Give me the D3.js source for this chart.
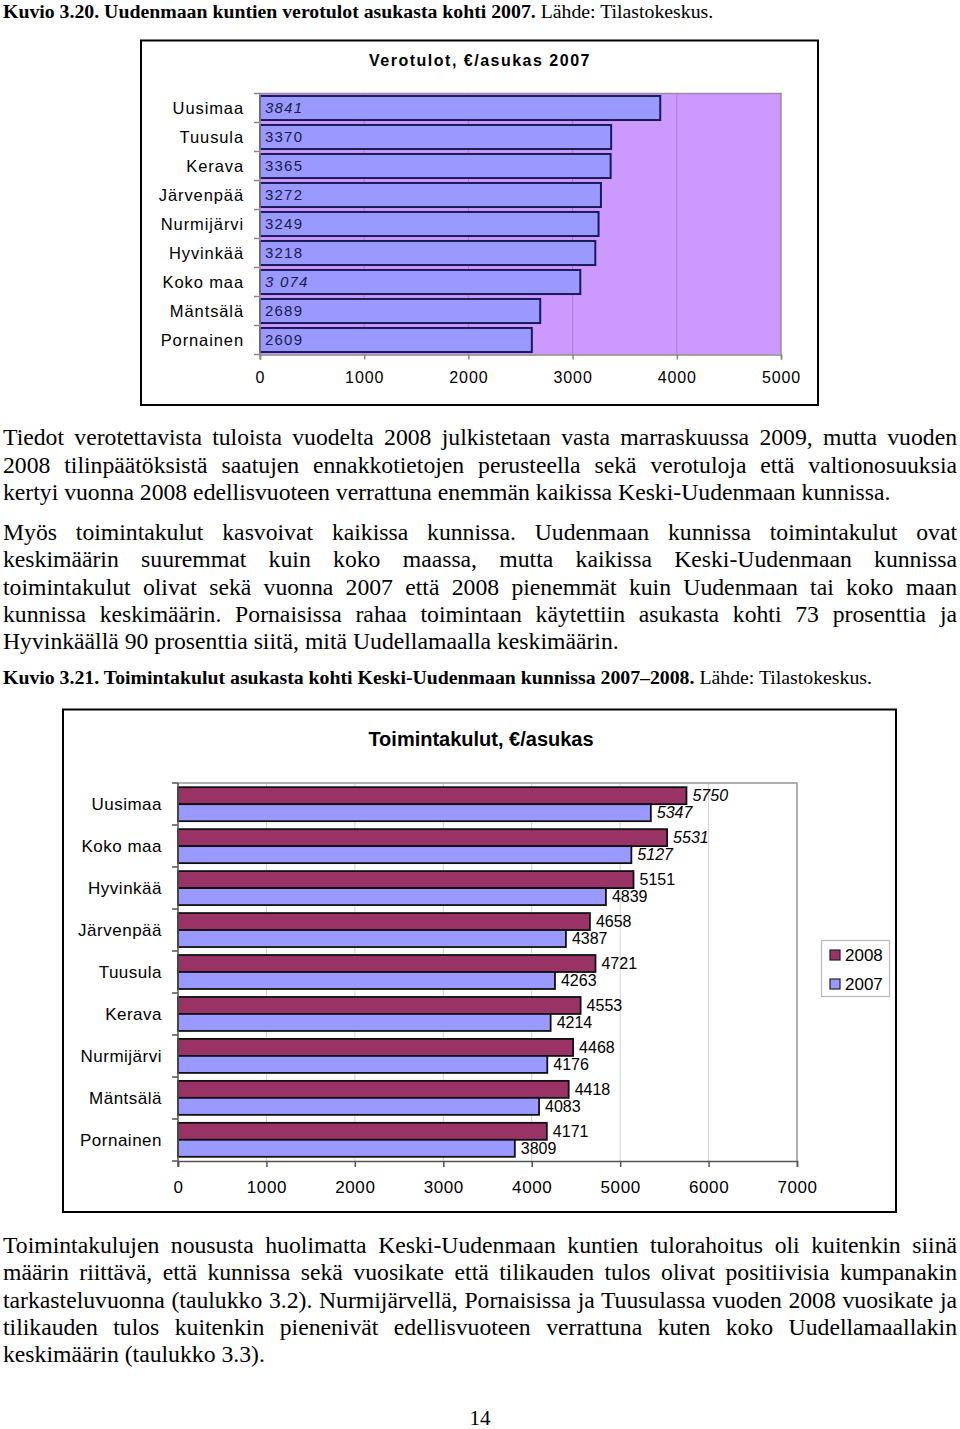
<!DOCTYPE html>
<html>
<head>
<meta charset="utf-8">
<script src="https://cdn.jsdelivr.net/npm/d3@7"></script>
<style>
  html, body { margin: 0; padding: 0; background: #fff; }
  svg { display: block; }
</style>
</head>
<body>
<div id="page"></div>
<script>
// ---------- DATA ----------
const topCategories = ["Uusimaa", "Tuusula", "Kerava", "Järvenpää", "Nurmijärvi", "Hyvinkää", "Koko maa", "Mäntsälä", "Pornainen"];
const topValues = [3841, 3370, 3365, 3272, 3249, 3218, 3074, 2689, 2609];
const topValueLabels = ["3841", "3370", "3365", "3272", "3249", "3218", "3 074", "2689", "2609"];
const topTicks = [0, 1000, 2000, 3000, 4000, 5000];

const botCategories = ["Uusimaa", "Koko maa", "Hyvinkää", "Järvenpää", "Tuusula", "Kerava", "Nurmijärvi", "Mäntsälä", "Pornainen"];
const values2008 = [5750, 5531, 5151, 4658, 4721, 4553, 4468, 4418, 4171];
const values2007 = [5347, 5127, 4839, 4387, 4263, 4214, 4176, 4083, 3809];
const seriesNames = ["2008", "2007"];
const botTicks = [0, 1000, 2000, 3000, 4000, 5000, 6000, 7000];

const italicCategories = ["Uusimaa", "Koko maa"];

const caption1Bold = "Kuvio 3.20. Uudenmaan kuntien verotulot asukasta kohti 2007.";
const caption2Bold = "Kuvio 3.21. Toimintakulut asukasta kohti Keski-Uudenmaan kunnissa 2007–2008.";
const captionSource = " Lähde: Tilastokeskus.";
const topTitle = "Verotulot, €/asukas 2007";
const botTitle = "Toimintakulut, €/asukas";

const para1 = [
  "Tiedot verotettavista tuloista vuodelta 2008 julkistetaan vasta marraskuussa 2009, mutta vuoden",
  "2008 tilinpäätöksistä saatujen ennakkotietojen perusteella sekä verotuloja että valtionosuuksia",
  "kertyi vuonna 2008 edellisvuoteen verrattuna enemmän kaikissa Keski-Uudenmaan kunnissa."
];
const para2 = [
  "Myös toimintakulut kasvoivat kaikissa kunnissa. Uudenmaan kunnissa toimintakulut ovat",
  "keskimäärin suuremmat kuin koko maassa, mutta kaikissa Keski-Uudenmaan kunnissa",
  "toimintakulut olivat sekä vuonna 2007 että 2008 pienemmät kuin Uudenmaan tai koko maan",
  "kunnissa keskimäärin. Pornaisissa rahaa toimintaan käytettiin asukasta kohti 73 prosenttia ja",
  "Hyvinkäällä 90 prosenttia siitä, mitä Uudellamaalla keskimäärin."
];
const para3 = [
  "Toimintakulujen noususta huolimatta Keski-Uudenmaan kuntien tulorahoitus oli kuitenkin siinä",
  "määrin riittävä, että kunnissa sekä vuosikate että tilikauden tulos olivat positiivisia kumpanakin",
  "tarkasteluvuonna (taulukko 3.2). Nurmijärvellä, Pornaisissa ja Tuusulassa vuoden 2008 vuosikate ja",
  "tilikauden tulos kuitenkin pienenivät edellisvuoteen verrattuna kuten koko Uudellamaallakin",
  "keskimäärin (taulukko 3.3)."
];
const pageNumber = "14";

// ---------- PAGE ----------
const W = 960, H = 1429;
const svg = d3.select("#page").append("svg").attr("width", W).attr("height", H);
svg.append("rect").attr("width", W).attr("height", H).attr("fill", "#fff");

const serif = "'Liberation Serif', 'Times New Roman', serif";
const sans = "'Liberation Sans', Arial, sans-serif";

function caption(y, boldText) {
  const t = svg.append("text").attr("x", 3).attr("y", y)
    .attr("font-family", serif).attr("font-size", 19.8).attr("fill", "#000");
  t.append("tspan").attr("font-weight", "bold").text(boldText);
  t.append("tspan").text(captionSource);
}

const TEXT_WIDTH = 954;
function paragraph(lines, y0, lh) {
  lines.forEach((line, i) => {
    const t = svg.append("text").attr("x", 3).attr("y", y0 + i * lh)
      .attr("font-family", serif).attr("font-size", 23.7).attr("fill", "#000")
      .text(line);
    if (i < lines.length - 1) {
      const natural = t.node().getComputedTextLength();
      const spaces = (line.match(/ /g) || []).length;
      if (spaces > 0) t.attr("word-spacing", (TEXT_WIDTH - natural) / spaces);
    }
  });
}

caption(18, caption1Bold);
paragraph(para1, 445, 27.5);
paragraph(para2, 540, 27.3);
caption(684, caption2Bold);
paragraph(para3, 1253, 27.3);
svg.append("text").attr("x", 480).attr("y", 1425).attr("text-anchor", "middle")
  .attr("font-family", serif).attr("font-size", 21).text(pageNumber);

// ---------- TOP CHART ----------
{
  const g = svg.append("g");
  g.append("rect").attr("x", 141).attr("y", 40.5).attr("width", 677).attr("height", 364.5)
    .attr("fill", "#fff").attr("stroke", "#000").attr("stroke-width", 2);
  g.append("text").attr("x", 480).attr("y", 60).attr("dy", "0.35em").attr("text-anchor", "middle")
    .attr("font-family", sans).attr("font-size", 16).attr("font-weight", "bold")
    .attr("letter-spacing", 1.5).text(topTitle);

  const left = 260, right = 781, top = 93.5, bottom = 354.5;
  const x = d3.scaleLinear().domain([0, 5000]).range([left, right]);
  const y = d3.scaleBand().domain(topCategories).range([top, bottom]).paddingInner(0.17).paddingOuter(0.085);

  g.append("rect").attr("x", left).attr("y", top).attr("width", right - left).attr("height", bottom - top)
    .attr("fill", "#cc99ff");
  g.selectAll(".grid").data(topTicks.slice(1, -1)).enter().append("line")
    .attr("x1", d => x(d)).attr("x2", d => x(d)).attr("y1", top).attr("y2", bottom)
    .attr("stroke", "#a57fd6").attr("stroke-width", 1);
  g.append("path").attr("d", `M${left},${top}H${right}V${bottom}`).attr("fill", "none")
    .attr("stroke", "#9a8aa8").attr("stroke-width", 1.5);

  g.selectAll(".bar").data(topCategories).enter().append("rect")
    .attr("x", x(0)).attr("y", d => y(d))
    .attr("width", (d, i) => x(topValues[i]) - x(0)).attr("height", y.bandwidth())
    .attr("fill", "#9999ff").attr("stroke", "#1a1a55").attr("stroke-width", 2);

  g.selectAll(".vl").data(topCategories).enter().append("text")
    .attr("x", left + 5).attr("y", d => y(d) + y.bandwidth() / 2).attr("dy", "0.36em")
    .attr("font-family", sans).attr("font-size", 15).attr("letter-spacing", 1.2)
    .attr("font-style", d => italicCategories.includes(d) ? "italic" : "normal")
    .attr("fill", "#1c1c4a").text((d, i) => topValueLabels[i]);

  const la = g.append("g");
  la.append("line").attr("x1", left).attr("x2", left).attr("y1", top).attr("y2", bottom + 5)
    .attr("stroke", "#888").attr("stroke-width", 1.5);
  d3.range(topCategories.length + 1).forEach(i => {
    const yy = top + i * (bottom - top) / topCategories.length;
    la.append("line").attr("x1", left - 6).attr("x2", left).attr("y1", yy).attr("y2", yy)
      .attr("stroke", "#888").attr("stroke-width", 1.5);
  });
  g.selectAll(".cl").data(topCategories).enter().append("text")
    .attr("x", 244).attr("y", d => y(d) + y.bandwidth() / 2).attr("dy", "0.36em")
    .attr("text-anchor", "end").attr("font-family", sans).attr("font-size", 16.5)
    .attr("letter-spacing", 0.9).attr("fill", "#000").text(d => d);

  const xa = g.append("g").attr("transform", `translate(0,${bottom})`)
    .call(d3.axisBottom(x).tickValues(topTicks).tickSize(5).tickPadding(12).tickFormat(d3.format("d")));
  xa.select(".domain").attr("stroke", "#888").attr("stroke-width", 1.5);
  xa.selectAll(".tick line").attr("stroke", "#888").attr("stroke-width", 1.5);
  xa.selectAll(".tick text").attr("font-family", sans).attr("font-size", 16).attr("letter-spacing", 0.9).attr("fill", "#000");
}

// ---------- BOTTOM CHART ----------
{
  const g = svg.append("g");
  g.append("rect").attr("x", 63).attr("y", 709.5).attr("width", 833).attr("height", 502.5)
    .attr("fill", "#fff").attr("stroke", "#000").attr("stroke-width", 2);
  g.append("text").attr("x", 481).attr("y", 739).attr("dy", "0.35em").attr("text-anchor", "middle")
    .attr("font-family", sans).attr("font-size", 20).attr("font-weight", "bold").text(botTitle);

  const left = 178, right = 797, top = 783, bottom = 1161;
  const x = d3.scaleLinear().domain([0, 7000]).range([left, right]);
  const y = d3.scaleBand().domain(botCategories).range([top, bottom]).paddingInner(0.19).paddingOuter(0.1);
  const ys = d3.scaleBand().domain(seriesNames).range([0, y.bandwidth()]);
  const color = d3.scaleOrdinal().domain(seriesNames).range(["#993366", "#9999ff"]);

  g.selectAll(".grid").data(botTicks.slice(1, -1)).enter().append("line")
    .attr("x1", d => x(d)).attr("x2", d => x(d)).attr("y1", top).attr("y2", bottom)
    .attr("stroke", "#d4d4d4").attr("stroke-width", 1);
  g.append("path").attr("d", `M${left},${top}H${right}V${bottom}`).attr("fill", "none")
    .attr("stroke", "#999").attr("stroke-width", 1.5);

  const rows = botCategories.map((c, i) => ({ cat: c, vals: [
    { s: "2008", v: values2008[i] }, { s: "2007", v: values2007[i] } ] }));

  const row = g.selectAll(".row").data(rows).enter().append("g")
    .attr("transform", d => `translate(0,${y(d.cat)})`);
  row.selectAll("rect").data(d => d.vals).enter().append("rect")
    .attr("x", x(0)).attr("y", d => ys(d.s))
    .attr("width", d => x(d.v) - x(0)).attr("height", ys.bandwidth())
    .attr("fill", d => color(d.s)).attr("stroke", "#111").attr("stroke-width", 1.8);
  row.each(function (r) {
    d3.select(this).selectAll("text").data(r.vals).enter().append("text")
      .attr("x", d => x(d.v) + 6).attr("y", d => ys(d.s) + ys.bandwidth() / 2).attr("dy", "0.36em")
      .attr("font-family", sans).attr("font-size", 16)
      .attr("font-style", italicCategories.includes(r.cat) ? "italic" : "normal")
      .attr("fill", "#000").text(d => d.v);
  });

  g.append("line").attr("x1", left).attr("x2", left).attr("y1", top).attr("y2", bottom + 6)
    .attr("stroke", "#555").attr("stroke-width", 1.5);
  d3.range(botCategories.length + 1).forEach(i => {
    const yy = top + i * (bottom - top) / botCategories.length;
    g.append("line").attr("x1", left - 6).attr("x2", left).attr("y1", yy).attr("y2", yy)
      .attr("stroke", "#555").attr("stroke-width", 1.5);
  });
  g.selectAll(".cl").data(botCategories).enter().append("text")
    .attr("x", 162).attr("y", d => y(d) + y.bandwidth() / 2).attr("dy", "0.36em")
    .attr("text-anchor", "end").attr("font-family", sans).attr("font-size", 17)
    .attr("letter-spacing", 0.5).attr("fill", "#000").text(d => d);

  const xa = g.append("g").attr("transform", `translate(0,${bottom})`)
    .call(d3.axisBottom(x).tickValues(botTicks).tickSize(6).tickPadding(14).tickFormat(d3.format("d")));
  xa.select(".domain").attr("stroke", "#555").attr("stroke-width", 1.5);
  xa.selectAll(".tick line").attr("stroke", "#555").attr("stroke-width", 1.5);
  xa.selectAll(".tick text").attr("font-family", sans).attr("font-size", 17).attr("letter-spacing", 0.6).attr("fill", "#000");

  const lg = g.append("g");
  lg.append("rect").attr("x", 821.5).attr("y", 940.5).attr("width", 68).attr("height", 56)
    .attr("fill", "#fff").attr("stroke", "#bbb").attr("stroke-width", 1.2);
  seriesNames.forEach((s, i) => {
    const cy = 955 + i * 29;
    lg.append("rect").attr("x", 830).attr("y", cy - 5).attr("width", 10).attr("height", 10)
      .attr("fill", color(s)).attr("stroke", "#222").attr("stroke-width", 1.2);
    lg.append("text").attr("x", 845).attr("y", cy).attr("dy", "0.36em")
      .attr("font-family", sans).attr("font-size", 17).attr("fill", "#000").text(s);
  });
}
</script>
</body>
</html>
